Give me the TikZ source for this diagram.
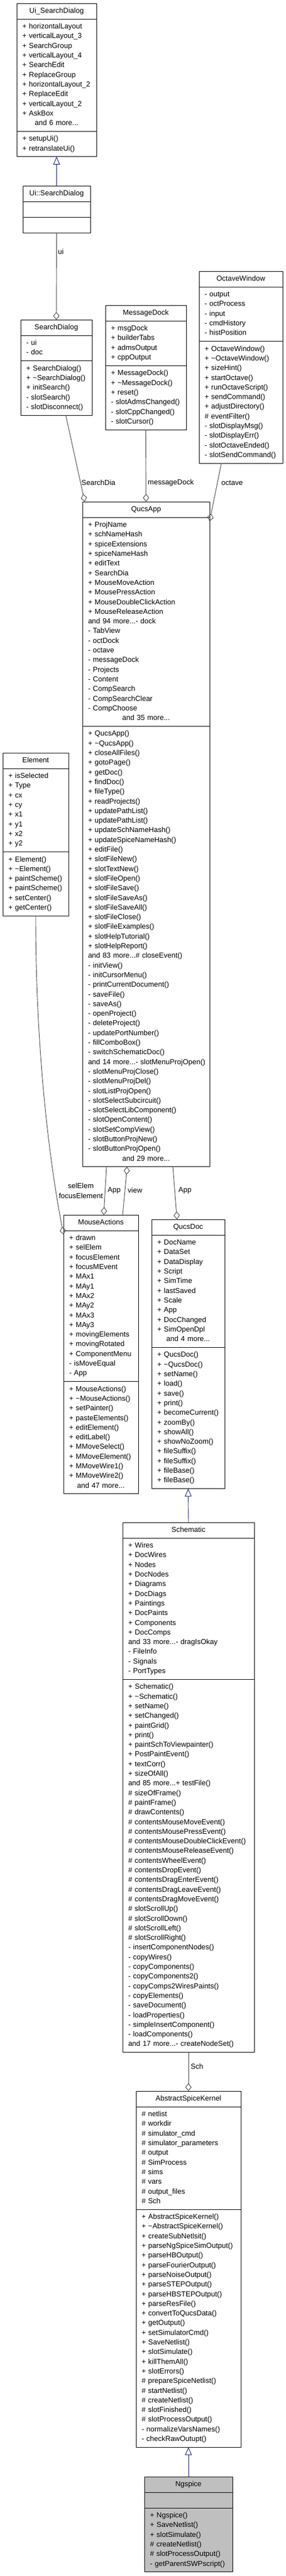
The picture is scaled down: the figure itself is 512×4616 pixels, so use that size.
\documentclass[tikz,border=0pt]{standalone}
\usepackage{fontspec}
\setmainfont{Liberation Sans}
\usetikzlibrary{arrows.meta}
\definecolor{edgegray}{HTML}{404040}
\definecolor{inhblue}{HTML}{191970}
\definecolor{focusfill}{HTML}{BFBFBF}
\newcommand\rowl[1]{\mbox{\strut #1}}
\newcommand\rowc[1]{\mbox{}\hfill\mbox{\strut #1}\hfill\mbox{}}
\newcommand\tld{\textasciitilde}
\begin{document}
\begin{tikzpicture}[x=1pt,y=-1pt,
  every node/.style={font=\fontsize{13}{17.3}\selectfont},
  cls/.style={draw=black, line width=0.9pt, anchor=north west, inner ysep=0pt, outer sep=0pt, fill=white},
  hdr/.style={cls, inner xsep=0pt, align=center, minimum height=28pt},
  sec/.style={cls, inner xsep=10pt, align=left},
  nrows/.style={minimum height={#1*17.3pt+11pt}},
  use/.style={draw=edgegray, line width=0.9pt, -{Diamond[open, length=14pt, width=11pt, line width=0.9pt]}},
  inh/.style={draw=inhblue, line width=0.9pt, -{Triangle[open, length=14pt, width=12pt, line width=0.9pt]}},
  lbl/.style={inner sep=0pt, anchor=west, text=black}
]
\fill[white] (0,0) rectangle (512,4616);
\useasboundingbox (0,0) rectangle (512,4616);

% ---------------- Ui_SearchDialog
\node[hdr, minimum width=143pt] (usdh) at (30,6) {\strut Ui\_SearchDialog};
\node[sec, text width=123pt, nrows=11] (usda) at (usdh.south west) {\rowl{+ horizontalLayout}\\\rowl{+ verticalLayout\_3}\\\rowl{+ SearchGroup}\\\rowl{+ verticalLayout\_4}\\\rowl{+ SearchEdit}\\\rowl{+ ReplaceGroup}\\\rowl{+ horizontalLayout\_2}\\\rowl{+ ReplaceEdit}\\\rowl{+ verticalLayout\_2}\\\rowl{+ AskBox}\\\rowc{and 6 more...}};
\node[sec, text width=123pt, nrows=2] (usdm) at (usda.south west) {\rowl{+ setupUi()}\\\rowl{+ retranslateUi()}};

% ---------------- Ui::SearchDialog
\node[hdr, minimum width=121pt] (uisdh) at (41,333) {\strut Ui::SearchDialog};
\node[sec, text width=101pt, minimum height=28pt] (uisda) at (uisdh.south west) {};
\node[sec, text width=101pt, minimum height=28pt] (uisdm) at (uisda.south west) {};

% ---------------- SearchDialog
\node[hdr, minimum width=128pt] (sdh) at (37,573) {\strut SearchDialog};
\node[sec, text width=108pt, nrows=2] (sda) at (sdh.south west) {\rowl{- ui}\\\rowl{- doc}};
\node[sec, text width=108pt, nrows=5] (sdm) at (sda.south west) {\rowl{+ SearchDialog()}\\\rowl{+ \tld SearchDialog()}\\\rowl{+ initSearch()}\\\rowl{- slotSearch()}\\\rowl{- slotDisconnect()}};

% ---------------- MessageDock
\node[hdr, minimum width=145pt] (mdh) at (189,547) {\strut MessageDock};
\node[sec, text width=125pt, nrows=4] (mda) at (mdh.south west) {\rowl{+ msgDock}\\\rowl{+ builderTabs}\\\rowl{+ admsOutput}\\\rowl{+ cppOutput}};
\node[sec, text width=125pt, nrows=6] (mdm) at (mda.south west) {\rowl{+ MessageDock()}\\\rowl{+ \tld MessageDock()}\\\rowl{+ reset()}\\\rowl{- slotAdmsChanged()}\\\rowl{- slotCppChanged()}\\\rowl{- slotCursor()}};

% ---------------- OctaveWindow
\node[hdr, minimum width=150pt] (owh) at (357,486) {\strut OctaveWindow};
\node[sec, text width=130pt, nrows=5] (owa) at (owh.south west) {\rowl{- output}\\\rowl{- octProcess}\\\rowl{- input}\\\rowl{- cmdHistory}\\\rowl{- histPosition}};
\node[sec, text width=130pt, nrows=12] (owm) at (owa.south west) {\rowl{+ OctaveWindow()}\\\rowl{+ \tld OctaveWindow()}\\\rowl{+ sizeHint()}\\\rowl{+ startOctave()}\\\rowl{+ runOctaveScript()}\\\rowl{+ sendCommand()}\\\rowl{+ adjustDirectory()}\\\rowl{\# eventFilter()}\\\rowl{- slotDisplayMsg()}\\\rowl{- slotDisplayErr()}\\\rowl{- slotOctaveEnded()}\\\rowl{- slotSendCommand()}};

% ---------------- QucsApp
\node[hdr, minimum width=228pt] (qah) at (148,899) {\strut QucsApp};
\node[sec, text width=208pt, nrows=21] (qaa) at (qah.south west) {\rowl{+ ProjName}\\\rowl{+ schNameHash}\\\rowl{+ spiceExtensions}\\\rowl{+ spiceNameHash}\\\rowl{+ editText}\\\rowl{+ SearchDia}\\\rowl{+ MouseMoveAction}\\\rowl{+ MousePressAction}\\\rowl{+ MouseDoubleClickAction}\\\rowl{+ MouseReleaseAction}\\\rowl{and 94 more...- dock}\\\rowl{- TabView}\\\rowl{- octDock}\\\rowl{- octave}\\\rowl{- messageDock}\\\rowl{- Projects}\\\rowl{- Content}\\\rowl{- CompSearch}\\\rowl{- CompSearchClear}\\\rowl{- CompChoose}\\\rowc{and 35 more...}};
\node[sec, text width=208pt, nrows=45] (qam) at (qaa.south west) {\rowl{+ QucsApp()}\\\rowl{+ \tld QucsApp()}\\\rowl{+ closeAllFiles()}\\\rowl{+ gotoPage()}\\\rowl{+ getDoc()}\\\rowl{+ findDoc()}\\\rowl{+ fileType()}\\\rowl{+ readProjects()}\\\rowl{+ updatePathList()}\\\rowl{+ updatePathList()}\\\rowl{+ updateSchNameHash()}\\\rowl{+ updateSpiceNameHash()}\\\rowl{+ editFile()}\\\rowl{+ slotFileNew()}\\\rowl{+ slotTextNew()}\\\rowl{+ slotFileOpen()}\\\rowl{+ slotFileSave()}\\\rowl{+ slotFileSaveAs()}\\\rowl{+ slotFileSaveAll()}\\\rowl{+ slotFileClose()}\\\rowl{+ slotFileExamples()}\\\rowl{+ slotHelpTutorial()}\\\rowl{+ slotHelpReport()}\\\rowl{and 83 more...\# closeEvent()}\\\rowl{- initView()}\\\rowl{- initCursorMenu()}\\\rowl{- printCurrentDocument()}\\\rowl{- saveFile()}\\\rowl{- saveAs()}\\\rowl{- openProject()}\\\rowl{- deleteProject()}\\\rowl{- updatePortNumber()}\\\rowl{- fillComboBox()}\\\rowl{- switchSchematicDoc()}\\\rowl{and 14 more...- slotMenuProjOpen()}\\\rowl{- slotMenuProjClose()}\\\rowl{- slotMenuProjDel()}\\\rowl{- slotListProjOpen()}\\\rowl{- slotSelectSubcircuit()}\\\rowl{- slotSelectLibComponent()}\\\rowl{- slotOpenContent()}\\\rowl{- slotSetCompView()}\\\rowl{- slotButtonProjNew()}\\\rowl{- slotButtonProjOpen()}\\\rowc{and 29 more...}};

% ---------------- Element
\node[hdr, minimum width=118pt] (elh) at (5,1349) {\strut Element};
\node[sec, text width=98pt, nrows=8] (ela) at (elh.south west) {\rowl{+ isSelected}\\\rowl{+ Type}\\\rowl{+ cx}\\\rowl{+ cy}\\\rowl{+ x1}\\\rowl{+ y1}\\\rowl{+ x2}\\\rowl{+ y2}};
\node[sec, text width=98pt, nrows=6] (elm) at (ela.south west) {\rowl{+ Element()}\\\rowl{+ \tld Element()}\\\rowl{+ paintScheme()}\\\rowl{+ paintScheme()}\\\rowl{+ setCenter()}\\\rowl{+ getCenter()}};

% ---------------- MouseActions
\node[hdr, minimum width=134pt] (mah) at (114,2177) {\strut MouseActions};
\node[sec, text width=114pt, nrows=15] (maa) at (mah.south west) {\rowl{+ drawn}\\\rowl{+ selElem}\\\rowl{+ focusElement}\\\rowl{+ focusMEvent}\\\rowl{+ MAx1}\\\rowl{+ MAy1}\\\rowl{+ MAx2}\\\rowl{+ MAy2}\\\rowl{+ MAx3}\\\rowl{+ MAy3}\\\rowl{+ movingElements}\\\rowl{+ movingRotated}\\\rowl{+ ComponentMenu}\\\rowl{- isMoveEqual}\\\rowl{- App}};
\node[sec, text width=114pt, nrows=11] (mam) at (maa.south west) {\rowl{+ MouseActions()}\\\rowl{+ \tld MouseActions()}\\\rowl{+ setPainter()}\\\rowl{+ pasteElements()}\\\rowl{+ editElement()}\\\rowl{+ editLabel()}\\\rowl{+ MMoveSelect()}\\\rowl{+ MMoveElement()}\\\rowl{+ MMoveWire1()}\\\rowl{+ MMoveWire2()}\\\rowc{and 47 more...}};

% ---------------- QucsDoc
\node[hdr, minimum width=131pt] (qdh) at (272,2185) {\strut QucsDoc};
\node[sec, text width=111pt, nrows=11] (qda) at (qdh.south west) {\rowl{+ DocName}\\\rowl{+ DataSet}\\\rowl{+ DataDisplay}\\\rowl{+ Script}\\\rowl{+ SimTime}\\\rowl{+ lastSaved}\\\rowl{+ Scale}\\\rowl{+ App}\\\rowl{+ DocChanged}\\\rowl{+ SimOpenDpl}\\\rowc{and 4 more...}};
\node[sec, text width=111pt, nrows=14] (qdm) at (qda.south west) {\rowl{+ QucsDoc()}\\\rowl{+ \tld QucsDoc()}\\\rowl{+ setName()}\\\rowl{+ load()}\\\rowl{+ save()}\\\rowl{+ print()}\\\rowl{+ becomeCurrent()}\\\rowl{+ zoomBy()}\\\rowl{+ showAll()}\\\rowl{+ showNoZoom()}\\\rowl{+ fileSuffix()}\\\rowl{+ fileSuffix()}\\\rowl{+ fileBase()}\\\rowl{+ fileBase()}};

% ---------------- Schematic
\node[hdr, minimum width=236pt] (sch) at (220,2728) {\strut Schematic};
\node[sec, text width=216pt, nrows=14] (sca) at (sch.south west) {\rowl{+ Wires}\\\rowl{+ DocWires}\\\rowl{+ Nodes}\\\rowl{+ DocNodes}\\\rowl{+ Diagrams}\\\rowl{+ DocDiags}\\\rowl{+ Paintings}\\\rowl{+ DocPaints}\\\rowl{+ Components}\\\rowl{+ DocComps}\\\rowl{and 33 more...- dragIsOkay}\\\rowl{- FileInfo}\\\rowl{- Signals}\\\rowl{- PortTypes}};
\node[sec, text width=216pt, nrows=38] (scm) at (sca.south west) {\rowl{+ Schematic()}\\\rowl{+ \tld Schematic()}\\\rowl{+ setName()}\\\rowl{+ setChanged()}\\\rowl{+ paintGrid()}\\\rowl{+ print()}\\\rowl{+ paintSchToViewpainter()}\\\rowl{+ PostPaintEvent()}\\\rowl{+ textCorr()}\\\rowl{+ sizeOfAll()}\\\rowl{and 85 more...+ testFile()}\\\rowl{\# sizeOfFrame()}\\\rowl{\# paintFrame()}\\\rowl{\# drawContents()}\\\rowl{\# contentsMouseMoveEvent()}\\\rowl{\# contentsMousePressEvent()}\\\rowl{\# contentsMouseDoubleClickEvent()}\\\rowl{\# contentsMouseReleaseEvent()}\\\rowl{\# contentsWheelEvent()}\\\rowl{\# contentsDropEvent()}\\\rowl{\# contentsDragEnterEvent()}\\\rowl{\# contentsDragLeaveEvent()}\\\rowl{\# contentsDragMoveEvent()}\\\rowl{\# slotScrollUp()}\\\rowl{\# slotScrollDown()}\\\rowl{\# slotScrollLeft()}\\\rowl{\# slotScrollRight()}\\\rowl{- insertComponentNodes()}\\\rowl{- copyWires()}\\\rowl{- copyComponents()}\\\rowl{- copyComponents2()}\\\rowl{- copyComps2WiresPaints()}\\\rowl{- copyElements()}\\\rowl{- saveDocument()}\\\rowl{- loadProperties()}\\\rowl{- simpleInsertComponent()}\\\rowl{- loadComponents()}\\\rowl{and 17 more...- createNodeSet()}};

% ---------------- AbstractSpiceKernel
\node[hdr, minimum width=188pt] (akh) at (244,3747) {\strut AbstractSpiceKernel};
\node[sec, text width=168pt, nrows=10] (aka) at (akh.south west) {\rowl{\# netlist}\\\rowl{\# workdir}\\\rowl{\# simulator\_cmd}\\\rowl{\# simulator\_parameters}\\\rowl{\# output}\\\rowl{\# SimProcess}\\\rowl{\# sims}\\\rowl{\# vars}\\\rowl{\# output\_files}\\\rowl{\# Sch}};
\node[sec, text width=168pt, nrows=24] (akm) at (aka.south west) {\rowl{+ AbstractSpiceKernel()}\\\rowl{+ \tld AbstractSpiceKernel()}\\\rowl{+ createSubNetlsit()}\\\rowl{+ parseNgSpiceSimOutput()}\\\rowl{+ parseHBOutput()}\\\rowl{+ parseFourierOutput()}\\\rowl{+ parseNoiseOutput()}\\\rowl{+ parseSTEPOutput()}\\\rowl{+ parseHBSTEPOutput()}\\\rowl{+ parseResFile()}\\\rowl{+ convertToQucsData()}\\\rowl{+ getOutput()}\\\rowl{+ setSimulatorCmd()}\\\rowl{+ SaveNetlist()}\\\rowl{+ slotSimulate()}\\\rowl{+ killThemAll()}\\\rowl{+ slotErrors()}\\\rowl{\# prepareSpiceNetlist()}\\\rowl{\# startNetlist()}\\\rowl{\# createNetlist()}\\\rowl{\# slotFinished()}\\\rowl{\# slotProcessOutput()}\\\rowl{- normalizeVarsNames()}\\\rowl{- checkRawOutupt()}};

% ---------------- Ngspice
\node[hdr, minimum width=158pt, fill=focusfill] (ngh) at (259,4438) {\strut Ngspice};
\node[sec, text width=138pt, minimum height=28pt, fill=focusfill] (nga) at (ngh.south west) {};
\node[sec, text width=138pt, nrows=6, fill=focusfill] (ngm) at (nga.south west) {\rowl{+ Ngspice()}\\\rowl{+ SaveNetlist()}\\\rowl{+ slotSimulate()}\\\rowl{\# createNetlist()}\\\rowl{\# slotProcessOutput()}\\\rowl{- getParentSWPscript()}};

% ---------------- inheritance
\draw[inh] (uisdh.north) -- (usdm.south);
\draw[inh] (sch.north) -- (qdm.south);
\draw[inh] (ngh.north) -- (akm.south);

% ---------------- usage
\draw[use] (uisdm.south) -- (sdh.north);
\node[lbl] (lui) at (104,451) {ui};

\draw[use] ([xshift=17pt]sdm.south) -- ([xshift=-110pt]qah.north);
\node[lbl] (lsd) at (146,865) {SearchDia};

\draw[use] (mdm.south) -- (qah.north);
\node[lbl] (lmd) at (265,865) {messageDock};

\draw[use] ([xshift=-35pt]owm.south) -- ([yshift=-7pt]qaa.north east);
\node[lbl] (loct) at (397,865) {octave};

\draw[use] (elm.south) .. controls (64,1900) and (92,2100) .. ([yshift=-7pt]maa.north west);
\node[inner sep=0pt, align=center, font=\fontsize{13}{18}\selectfont] (lsel) at (145,2134) {selElem\\focusElement};

\draw[use] ([xshift=-71pt]qam.south) -- ([xshift=5pt]mah.north);
\node[lbl] (lapp1) at (193,2133) {App};

\draw[use] ([xshift=39pt]mah.north) -- ([xshift=-34pt]qam.south);
\node[lbl] (lview) at (229,2133) {view};

\draw[use] ([xshift=48pt]qam.south) -- ([xshift=-20pt]qdh.north);
\node[lbl] (lapp2) at (320,2133) {App};

\draw[use] (scm.south) -- (akh.north);
\node[lbl] (lsch) at (342,3703) {Sch};
\end{tikzpicture}
\end{document}
